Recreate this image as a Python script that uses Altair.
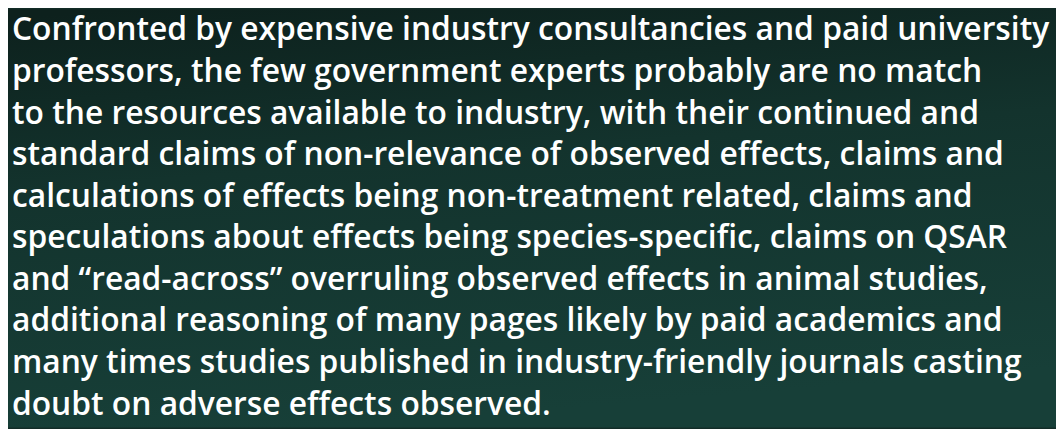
import altair as alt
import pandas as pd

lines = [
    "Confronted by expensive industry consultancies and paid university",
    "professors, the few government experts probably are no match",
    "to the resources available to industry, with their continued and",
    "standard claims of non-relevance of observed effects, claims and",
    "calculations of effects being non-treatment related, claims and",
    "speculations about effects being species-specific, claims on QSAR",
    "and \u201cread-across\u201d overruling observed effects in animal studies,",
    "additional reasoning of many pages likely by paid academics and",
    "many times studies published in industry-friendly journals casting",
    "doubt on adverse effects observed.",
]
line_no = list(range(len(lines)))

df = pd.DataFrame({"line": line_no, "text": lines})

W, H = 1056, 421

bg = alt.Chart(pd.DataFrame({"a": [0]})).mark_rect(
    color=alt.LinearGradient(
        gradient="linear",
        stops=[
            alt.GradientStop(color="#0d211d", offset=0),
            alt.GradientStop(color="#13332d", offset=0.4),
            alt.GradientStop(color="#173f38", offset=1),
        ],
        x1=0.1, y1=0, x2=0.3, y2=1,
    )
).encode(
    x=alt.value(0), x2=alt.value(W), y=alt.value(0), y2=alt.value(H)
)

txt = alt.Chart(df).mark_text(
    align="left",
    baseline="alphabetic",
    font="Open Sans",
    fontSize=32,
    fontWeight=600,
    color="#ffffff",
).encode(
    x=alt.value(4),
    y=alt.Y("line:Q", scale=alt.Scale(domain=[0, 9], range=[31, 408]), axis=None),
    text="text:N",
)

chart = alt.layer(bg, txt).properties(
    width=W, height=H, padding=0,
    autosize=alt.AutoSizeParams(type="fit", contains="padding"),
    background="#122c27",
).configure_view(stroke=None)

chart.save("out.html", embed_options={"renderer": "svg", "actions": False})
